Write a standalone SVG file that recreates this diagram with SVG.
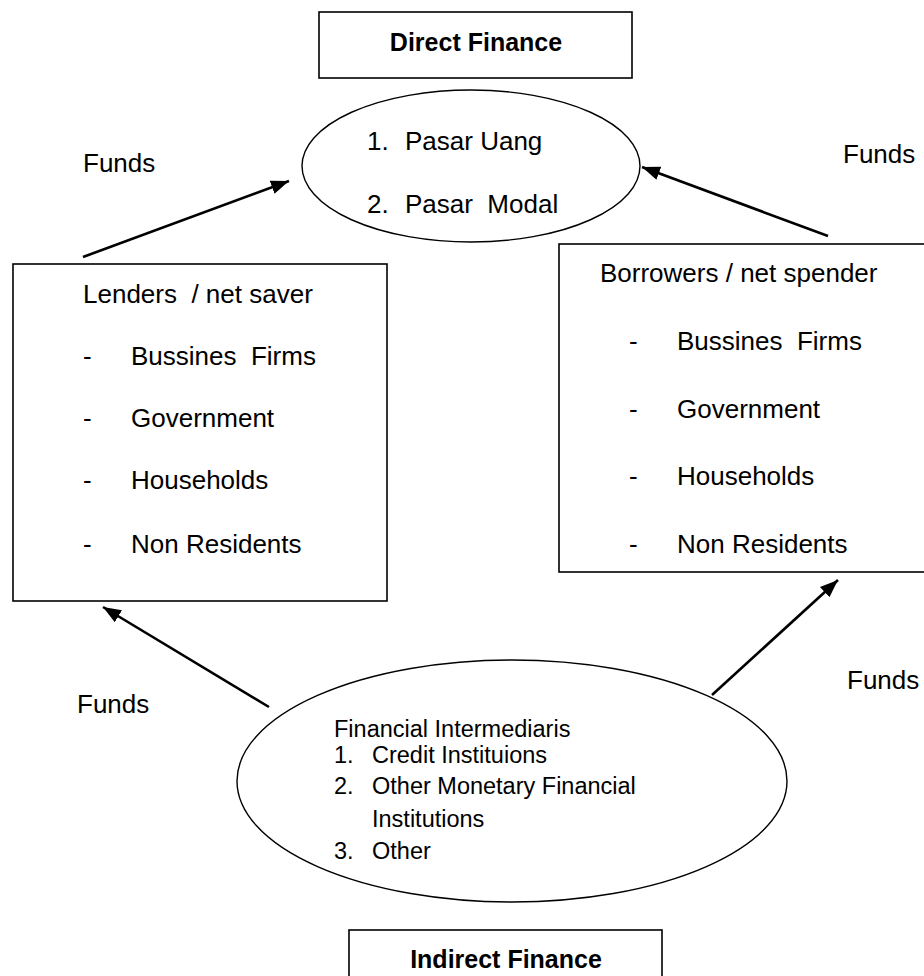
<svg xmlns="http://www.w3.org/2000/svg" width="924" height="976" viewBox="0 0 924 976">
<style>
text{font-family:"Liberation Sans",Arial,sans-serif;font-size:26px;fill:#000}
.b{font-weight:bold;font-size:25px}
.s{font-size:23.5px}
.box{fill:#fff;stroke:#000;stroke-width:1.6}
.ell{fill:#fff;stroke:#000;stroke-width:1.4}
.arr{stroke:#000;stroke-width:2.6;fill:none;marker-end:url(#ah)}
</style>
<defs>
<marker id="ah" markerUnits="userSpaceOnUse" markerWidth="20" markerHeight="16" refX="18" refY="7" orient="auto">
<path d="M0,0 L18,7 L0,14 Z" fill="#000"/>
</marker>
</defs>
<rect width="924" height="976" fill="#fff"/>
<g id="direct-finance">
<rect class="box" x="319" y="12" width="313" height="66"/>
<text class="b" x="476" y="51" text-anchor="middle">Direct Finance</text>
</g>
<g id="markets">
<ellipse class="ell" cx="471" cy="166" rx="169" ry="76"/>
<text x="367" y="150">1.</text><text x="405" y="150">Pasar Uang</text>
<text x="367" y="213">2.</text><text x="405" y="213" xml:space="preserve">Pasar  Modal</text>
</g>
<g id="lenders">
<rect class="box" x="13" y="264" width="374" height="337"/>
<text x="83" y="303" xml:space="preserve">Lenders  / net saver</text>
<text x="83" y="365">-</text><text x="131" y="365" xml:space="preserve">Bussines  Firms</text>
<text x="83" y="427">-</text><text x="131" y="427">Government</text>
<text x="83" y="489">-</text><text x="131" y="489">Households</text>
<text x="83" y="553">-</text><text x="131" y="553">Non Residents</text>
</g>
<g id="borrowers">
<rect class="box" x="559" y="244" width="366" height="328"/>
<text x="600" y="282">Borrowers / net spender</text>
<text x="629" y="350">-</text><text x="677" y="350" xml:space="preserve">Bussines  Firms</text>
<text x="629" y="418">-</text><text x="677" y="418">Government</text>
<text x="629" y="485">-</text><text x="677" y="485">Households</text>
<text x="629" y="553">-</text><text x="677" y="553">Non Residents</text>
</g>
<g id="intermediaries">
<ellipse class="ell" cx="512" cy="781" rx="275" ry="121"/>
<text class="s" x="334" y="737">Financial Intermediaris</text>
<text class="s" x="334" y="763">1.</text><text class="s" x="372" y="763">Credit Instituions</text>
<text class="s" x="334" y="794">2.</text><text class="s" x="372" y="794">Other Monetary Financial</text>
<text class="s" x="372" y="827">Institutions</text>
<text class="s" x="334" y="859">3.</text><text class="s" x="372" y="859">Other</text>
</g>
<g id="indirect-finance">
<rect class="box" x="349" y="930" width="313" height="60"/>
<text class="b" x="506" y="968" text-anchor="middle">Indirect Finance</text>
</g>
<g id="connectors">
<path class="arr" d="M83,257 L289,181"/>
<path class="arr" d="M828,236 L642,167"/>
<path class="arr" d="M269,707 L103,607"/>
<path class="arr" d="M712,695 L838,580"/>
</g>
<g id="labels">
<text x="83" y="172">Funds</text>
<text x="843" y="163">Funds</text>
<text x="77" y="713">Funds</text>
<text x="847" y="689">Funds</text>
</g>
</svg>
